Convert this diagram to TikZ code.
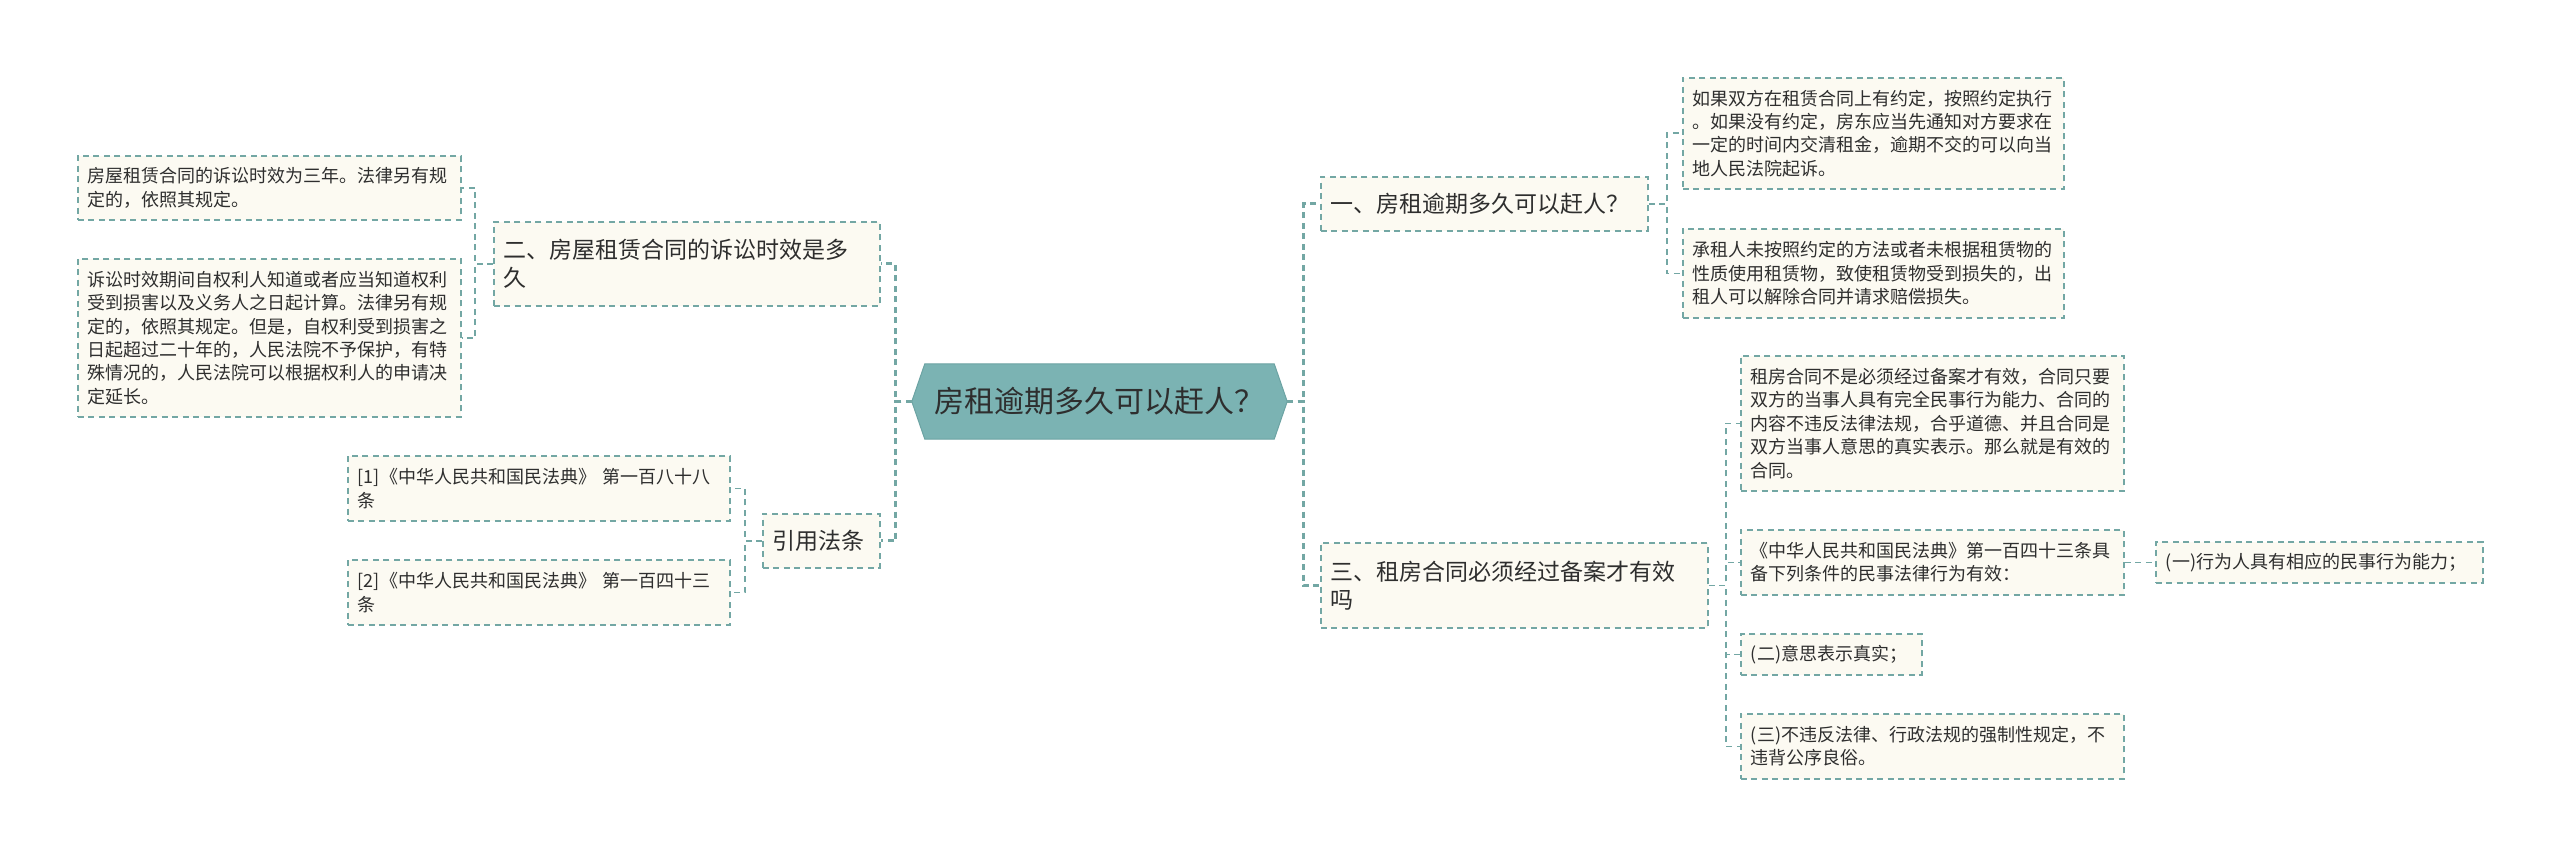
\documentclass[tikz,border=0pt]{standalone}
\usepackage{fontspec}
\setmainfont{Noto Sans CJK SC}
\usetikzlibrary{backgrounds,calc}
\definecolor{ln}{HTML}{73A7A4}
\definecolor{bg}{HTML}{FCFAF2}
\definecolor{cf}{HTML}{7BB3B3}
\definecolor{cb}{HTML}{6CA3A3}
\definecolor{tx}{HTML}{2E2E2E}
\tikzset{
 box/.style={draw=ln, line width=1.8pt, dash pattern=on 6pt off 4.5pt, fill=bg, inner xsep=10pt, inner ysep=0pt, align=left, anchor=north west, text=tx},
 sm/.style={box, font=\fontsize{18}{23.4}\selectfont},
 md/.style={box, font=\fontsize{23}{27.5}\selectfont},
 conn/.style={draw=ln, line width=1.8pt, dash pattern=on 6pt off 4.5pt},
 trunk/.style={conn, line width=3pt},
}
\begin{document}
\begin{tikzpicture}[x=1pt,y=-1pt]
\useasboundingbox (0,0) rectangle (2560,856);
% centre
\node[font=\fontsize{30}{36}\selectfont, text=tx, minimum width=375pt, minimum height=75pt, inner sep=0pt] (ctr) at (1099.5,401.5) {房租逾期多久可以赶人？};
\begin{scope}[on background layer]
\filldraw[fill=cf, draw=cb, line width=1pt] (ctr.west) -- ([xshift=13pt]ctr.north west) -- ([xshift=-13pt]ctr.north east) -- (ctr.east) -- ([xshift=-13pt]ctr.south east) -- ([xshift=13pt]ctr.south west) -- cycle;
\end{scope}
% left side
\node[md, text width=366pt, minimum height=84pt] (er) at (493,221) {二、房屋租赁合同的诉讼时效是多\\久};
\node[sm, text width=363pt, minimum height=64pt] (b1) at (77,155) {房屋租赁合同的诉讼时效为三年。法律另有规\\定的，依照其规定。};
\node[sm, text width=363pt, minimum height=158pt] (b2) at (77,258) {诉讼时效期间自权利人知道或者应当知道权利\\受到损害以及义务人之日起计算。法律另有规\\定的，依照其规定。但是，自权利受到损害之\\日起超过二十年的，人民法院不予保护，有特\\殊情况的，人民法院可以根据权利人的申请决\\定延长。};
\node[md, text width=97pt, minimum height=54pt] (yy) at (762,513) {引用法条};
\node[sm, text width=362pt, minimum height=65pt] (r1) at (347,455) {[1]《中华人民共和国民法典》 第一百八十八\\条};
\node[sm, text width=362pt, minimum height=65pt] (r2) at (347,559) {[2]《中华人民共和国民法典》 第一百四十三\\条};
% right side
\node[md, text width=307pt, minimum height=54pt] (yi) at (1320,176) {一、房租逾期多久可以赶人？};
\node[sm, text width=361pt, minimum height=111pt] (na) at (1682,77) {如果双方在租赁合同上有约定，按照约定执行\\。如果没有约定，房东应当先通知对方要求在\\一定的时间内交清租金，逾期不交的可以向当\\地人民法院起诉。};
\node[sm, text width=361pt, minimum height=89pt] (nb) at (1682,228) {承租人未按照约定的方法或者未根据租赁物的\\性质使用租赁物，致使租赁物受到损失的，出\\租人可以解除合同并请求赔偿损失。};
\node[md, text width=367pt, minimum height=85pt] (san) at (1320,542) {三、租房合同必须经过备案才有效\\吗};
\node[sm, text width=363pt, minimum height=135pt] (nc) at (1740,355) {租房合同不是必须经过备案才有效，合同只要\\双方的当事人具有完全民事行为能力、合同的\\内容不违反法律法规，合乎道德、并且合同是\\双方当事人意思的真实表示。那么就是有效的\\合同。};
\node[sm, text width=363pt, minimum height=65pt] (nd) at (1740,529) {《中华人民共和国民法典》第一百四十三条具\\备下列条件的民事法律行为有效：};
\node[sm, text width=161pt, minimum height=41pt] (ne) at (1740,633) {(二)意思表示真实；};
\node[sm, text width=363pt, minimum height=65pt] (nf) at (1740,713) {(三)不违反法律、行政法规的强制性规定，不\\违背公序良俗。};
\node[sm, text width=307pt, minimum height=41pt] (ng) at (2155,541) {(一)行为人具有相应的民事行为能力；};
% connectors
\draw[trunk] (ctr.west) -- ++(-16,0) |- (er.east);
\draw[trunk] (ctr.west) -- ++(-16,0) |- (yy.east);
\draw[conn] (er.west) -- ++(-18,0) |- (b1.east);
\draw[conn] (er.west) -- ++(-18,0) |- (b2.east);
\draw[conn] (yy.west) -- ++(-17,0) |- (r1.east);
\draw[conn] (yy.west) -- ++(-17,0) |- (r2.east);
\draw[trunk] (ctr.east) -- ++(16,0) |- (yi.west);
\draw[trunk] (ctr.east) -- ++(16,0) |- (san.west);
\draw[conn] (yi.east) -- ++(18,0) |- (na.west);
\draw[conn] (yi.east) -- ++(18,0) |- (nb.west);
\draw[conn] (san.east) -- ++(17,0) |- (nc.west);
\draw[conn] (san.east) -- ++(17,0) |- (nd.west);
\draw[conn] (san.east) -- ++(17,0) |- (ne.west);
\draw[conn] (san.east) -- ++(17,0) |- (nf.west);
\draw[conn] (nd.east) -- (ng.west);
\end{tikzpicture}
\end{document}
